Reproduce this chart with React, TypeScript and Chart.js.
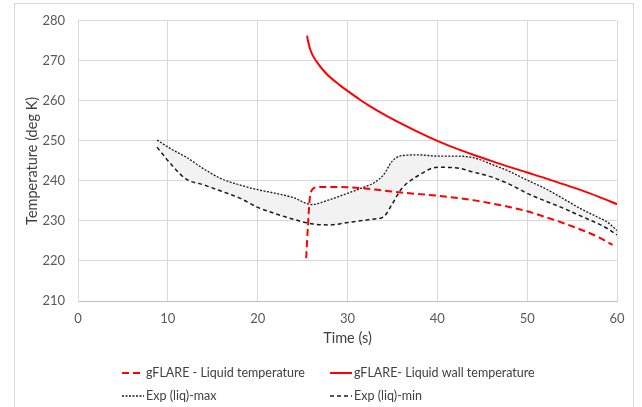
import React, { useEffect, useRef } from "react";
import { Chart, registerables } from "chart.js";

Chart.register(...registerables);

// ---- Data ----
const liquidTime = [25.4, 25.6, 25.8, 26.1, 26.5, 28, 30, 32, 34, 36, 38, 40, 42, 44, 46, 48, 50, 52, 54, 56, 58, 59.5];
const liquidTemp = [220.7, 229, 235.5, 237.9, 238.4, 238.5, 238.4, 238.1, 237.6, 237.1, 236.7, 236.3, 235.8, 235.2, 234.4, 233.5, 232.4, 231.0, 229.5, 227.8, 225.9, 224.0];

const wallTime = [25.5, 25.6, 25.8, 26.1, 26.5, 27.6, 29.1, 30, 31.3, 32.3, 34, 36, 38, 40, 42, 44, 46, 48, 50, 52, 54, 56, 58, 60];
const wallTemp = [276.3, 275.0, 273.2, 271.5, 270.0, 266.9, 264.0, 262.5, 260.4, 258.95, 256.7, 254.3, 252.05, 250.0, 248.2, 246.55, 245.0, 243.5, 242.1, 240.7, 239.2, 237.7, 236.0, 234.2];

const expTime = [8.8, 10.5, 12, 14, 16, 18, 20, 22, 24, 26, 28, 30, 32, 33, 34, 35, 36, 38, 40, 42, 44, 46, 48, 50, 52, 54, 56, 58, 59, 60];
const expMax = [250.2, 247.8, 246.0, 243.0, 240.5, 239.0, 237.8, 236.9, 235.8, 234.1, 235.3, 236.9, 238.6, 239.6, 241.5, 245.0, 246.3, 246.5, 246.2, 246.2, 245.8, 244.2, 242.4, 240.2, 238.1, 235.6, 233.0, 230.8, 229.6, 227.6];
const expMin = [248.4, 243.8, 240.5, 239.0, 237.4, 235.7, 233.4, 231.8, 230.4, 229.3, 229.0, 229.6, 230.2, 230.5, 231.0, 234.3, 238.0, 241.5, 243.4, 243.3, 242.2, 241.0, 239.2, 236.9, 235.0, 233.2, 231.2, 229.2, 228.0, 226.5];

const seriesLabels = [
  "gFLARE - Liquid temperature",
  "gFLARE- Liquid wall temperature",
  "Exp (liq)-max",
  "Exp (liq)-min",
];

const xTicks = { min: 0, max: 60, step: 10 };
const yTicks = { min: 210, max: 280, step: 10 };

const FONT = "Lato, 'Open Sans', sans-serif";

const toPoints = (xs: number[], ys: number[]) => xs.map((x, i) => ({ x, y: ys[i] }));

const legendPlugin = {
  id: "gridLegend",
  afterDraw(chart: any) {
    const ctx = chart.ctx;
    const ds = chart.data.datasets;
    const cols = [122, 330];
    const rows = [373, 396];
    ctx.save();
    ctx.font = `12.5px ${FONT}`;
    ctx.textBaseline = "middle";
    ctx.fillStyle = "#404040";
    ds.forEach((d: any, i: number) => {
      const x = cols[i % 2];
      const y = rows[Math.floor(i / 2)];
      ctx.save();
      ctx.strokeStyle = d.borderColor;
      ctx.lineWidth = d.borderWidth;
      ctx.setLineDash(d.borderDash || []);
      ctx.beginPath();
      ctx.moveTo(x, y);
      ctx.lineTo(x + 22, y);
      ctx.stroke();
      ctx.restore();
      ctx.fillText(d.label, x + 24, y);
    });
    ctx.restore();
  },
};

export default function App() {
  const ref = useRef<HTMLCanvasElement | null>(null);

  useEffect(() => {
    if (!ref.current) return;
    const chart = new Chart(ref.current, {
      type: "line",
      data: {
        datasets: [
          {
            label: seriesLabels[0],
            data: toPoints(liquidTime, liquidTemp),
            borderColor: "#ff0000",
            borderWidth: 2,
            borderDash: [7, 4],
            pointRadius: 0,
            fill: false,
            cubicInterpolationMode: "monotone",
          },
          {
            label: seriesLabels[1],
            data: toPoints(wallTime, wallTemp),
            borderColor: "#ff0000",
            borderWidth: 2,
            pointRadius: 0,
            fill: false,
            cubicInterpolationMode: "monotone",
          },
          {
            label: seriesLabels[2],
            data: toPoints(expTime, expMax),
            borderColor: "#1a1a1a",
            borderWidth: 1.3,
            borderDash: [2, 1.5],
            pointRadius: 0,
            fill: "+1",
            backgroundColor: "#f2f2f2",
            cubicInterpolationMode: "monotone",
          },
          {
            label: seriesLabels[3],
            data: toPoints(expTime, expMin),
            borderColor: "#1a1a1a",
            borderWidth: 1.5,
            borderDash: [4, 3],
            pointRadius: 0,
            fill: false,
            cubicInterpolationMode: "monotone",
          },
        ],
      },
      options: {
        responsive: false,
        animation: false,
        layout: { padding: { left: 0, right: 25, top: 12, bottom: 56 } },
        plugins: {
          legend: { display: false },
          tooltip: { enabled: false },
          filler: { drawTime: "beforeDatasetsDraw" },
        },
        scales: {
          x: {
            type: "linear",
            min: xTicks.min,
            max: xTicks.max,
            ticks: { stepSize: xTicks.step, padding: 10, color: "#595959", font: { family: FONT, size: 13 }, maxRotation: 0 },
            grid: { color: "#d9d9d9", drawTicks: false },
            border: { color: "#bfbfbf" },
            title: { display: true, text: "Time (s)", color: "#404040", font: { family: FONT, size: 14.5 }, padding: { top: 0, bottom: 4 } },
            afterFit: (s: any) => { s.height = 50; },
          },
          y: {
            min: yTicks.min,
            max: yTicks.max,
            ticks: { stepSize: yTicks.step, padding: 13, color: "#595959", font: { family: FONT, size: 13 } },
            grid: { color: "#d9d9d9", drawTicks: false },
            border: { color: "#d9d9d9" },
            title: { display: true, text: "Temperature (deg K)", color: "#404040", font: { family: FONT, size: 14.5 }, padding: { top: 24, bottom: 0 } },
            afterFit: (s: any) => { s.width = 78; },
          },
        },
      },
      plugins: [legendPlugin],
    } as any);
    return () => chart.destroy();
  }, []);

  return (
    <div style={{ position: "fixed", left: 0, top: 0, width: 642, height: 407, background: "#fff", overflow: "hidden" }}>
      <div style={{ position: "absolute", left: 14, top: 3, width: 618, height: 500, border: "1px solid #d9d9d9" }} />
      <canvas ref={ref} width={642} height={407} style={{ position: "absolute", left: 0, top: 0, width: 642, height: 407 }} />
    </div>
  );
}
